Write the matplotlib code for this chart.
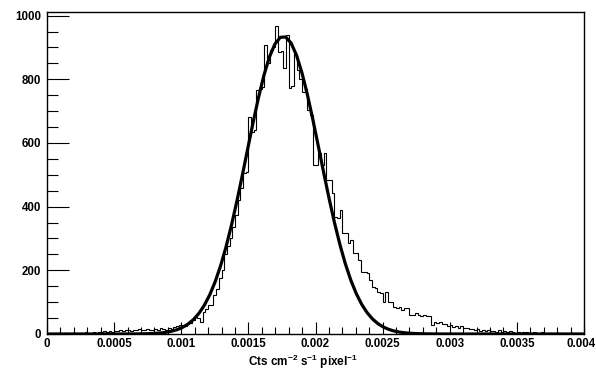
import numpy as np
import matplotlib
matplotlib.use("Agg")
import matplotlib.pyplot as plt
from matplotlib.ticker import MultipleLocator
from matplotlib.transforms import ScaledTranslation

plt.rcParams['font.family'] = ['Liberation Sans', 'DejaVu Sans']
plt.rcParams['mathtext.fontset'] = 'custom'
plt.rcParams['mathtext.rm'] = 'Liberation Sans:bold'
plt.rcParams['mathtext.bf'] = 'Liberation Sans:bold'
plt.rcParams['mathtext.default'] = 'bf'

# histogram: 200 bins from 0 to 0.004
bin_lo = 0.0
bin_hi = 0.004
counts = [
    0, 1, 0, 2, 1, 0, 3, 2, 1, 2,
    3, 2, 4, 3, 5, 2, 4, 6, 3, 5,
    6, 8, 5, 9, 7, 10, 8, 12, 9, 11,
    14, 10, 13, 12, 15, 11, 14, 16, 13, 12,
    15, 14, 18, 16, 13, 20, 17, 22, 25, 28,
    28, 25, 31, 33, 45, 53, 50, 38, 69, 79,
    90, 92, 123, 140, 175, 200, 250, 275, 300, 335,
    375, 420, 460, 505, 510, 683, 635, 640, 767, 770,
    775, 909, 850, 893, 900, 968, 887, 890, 836, 940,
    773, 780, 880, 830, 800, 760, 770, 704, 687, 531,
    531, 569, 531, 569, 484, 484, 443, 368, 365, 390,
    317, 317, 286, 296, 254, 254, 233, 196, 196, 192,
    170, 148, 145, 132, 128, 100, 132, 100, 100, 86,
    81, 86, 75, 81, 81, 60, 60, 65, 60, 55,
    60, 55, 55, 28, 38, 35, 38, 30, 32, 25,
    28, 22, 26, 20, 24, 18, 20, 15, 17, 12,
    15, 10, 13, 9, 12, 8, 10, 7, 11, 6,
    9, 5, 8, 6, 4, 7, 3, 6, 5, 2,
    4, 6, 3, 2, 5, 1, 3, 4, 2, 1,
    3, 2, 0, 2, 1, 3, 0, 1, 2, 0,
]
tick_vals = [0, 0.0005, 0.001, 0.0015, 0.002, 0.0025, 0.003, 0.0035, 0.004]
tick_text = ['0', '0.0005', '0.001', '0.0015', '0.002', '0.0025',
             '0.003', '0.0035', '0.004']

# gaussian fit parameters
fit_amp = 935.0
fit_mean = 0.00176
fit_sigma = 0.000272

edges = np.linspace(bin_lo, bin_hi, len(counts) + 1)
xf = np.linspace(bin_lo, bin_hi, 100)
yf = fit_amp * np.exp(-0.5 * ((xf - fit_mean) / fit_sigma) ** 2)

fig = plt.figure(figsize=(5.96, 3.72), dpi=100)
ax = fig.add_axes([47 / 596, 1 - 334 / 372, 537 / 596, 322.5 / 372])

ax.stairs(counts, edges, color='black', linewidth=0.8)
ax.plot(xf, yf, color='black', linewidth=2.3)

ax.set_xlim(bin_lo, bin_hi)
ax.set_ylim(0, 1013)

ax.set_xticks(tick_vals)
ax.set_xticklabels(tick_text)
ax.xaxis.set_minor_locator(MultipleLocator(0.0001))
ax.yaxis.set_major_locator(MultipleLocator(200))
ax.yaxis.set_minor_locator(MultipleLocator(50))

ax.tick_params(axis='x', which='major', direction='in', length=9, width=0.8, pad=3)
ax.tick_params(axis='x', which='minor', direction='in', length=5, width=0.8)
ax.tick_params(axis='y', which='major', direction='in', length=16, width=0.8, pad=4)
ax.tick_params(axis='y', which='minor', direction='in', length=8, width=0.8)
for lab in ax.get_xticklabels() + ax.get_yticklabels():
    lab.set_fontsize(8.3)
    lab.set_fontweight('bold')
# nudge the last x label so it stays inside the figure
last = ax.get_xticklabels()[-1]
last.set_transform(last.get_transform() + ScaledTranslation(-3 / 100, 0, fig.dpi_scale_trans))

for sp in ax.spines.values():
    sp.set_linewidth(1.0)

fig.text(248 / 596, 1 - 362 / 372, 'Cts cm$^{-2}$ s$^{-1}$ pixel$^{-1}$',
         fontsize=8.5, fontweight='bold', ha='left', va='center')

fig.savefig('out.png', dpi=100)
